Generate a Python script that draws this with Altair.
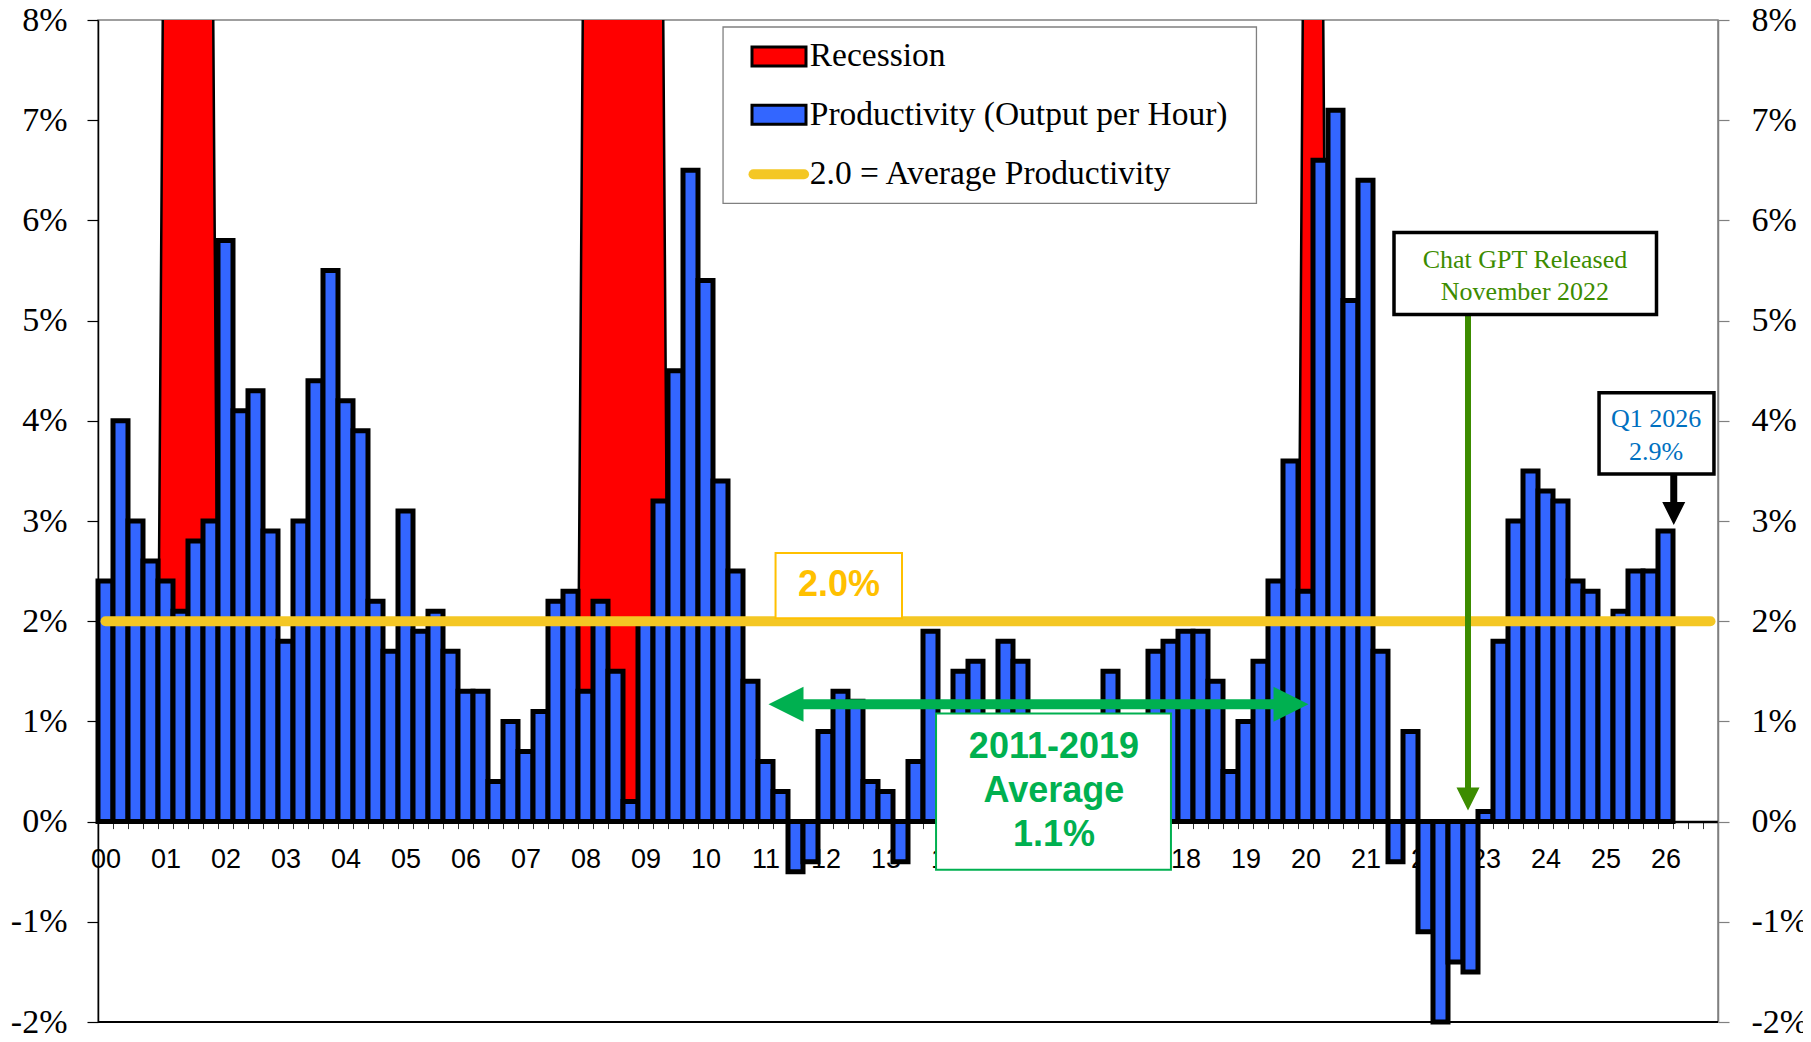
import json
import altair as alt
import pandas as pd

# ------------------------------------------------------------------ data
year_labels = ["00", "01", "02", "03", "04", "05", "06", "07", "08", "09",
               "10", "11", "12", "13", "14", "15", "16", "17", "18", "19",
               "20", "21", "22", "23", "24", "25", "26"]

# Productivity (output per hour), y/y % change, quarterly 2000Q1 .. 2026Q1
productivity = [
    2.4, 4.0, 3.0, 2.6,      # 2000
    2.4, 2.1, 2.8, 3.0,      # 2001
    5.8, 4.1, 4.3, 2.9,      # 2002
    1.8, 3.0, 4.4, 5.5,      # 2003
    4.2, 3.9, 2.2, 1.7,      # 2004
    3.1, 1.9, 2.1, 1.7,      # 2005
    1.3, 1.3, 0.4, 1.0,      # 2006
    0.7, 1.1, 2.2, 2.3,      # 2007
    1.3, 2.2, 1.5, 0.2,      # 2008
    2.0, 3.2, 4.5, 6.5,      # 2009
    5.4, 3.4, 2.5, 1.4,      # 2010
    0.6, 0.3, -0.5, -0.4,    # 2011
    0.9, 1.3, 1.2, 0.4,      # 2012
    0.3, -0.4, 0.6, 1.9,     # 2013
    0.8, 1.5, 1.6, 0.9,      # 2014
    1.8, 1.6, 0.9, 0.6,      # 2015
    0.5, 0.4, 0.6, 1.5,      # 2016
    0.9, 1.0, 1.7, 1.8,      # 2017
    1.9, 1.9, 1.4, 0.5,      # 2018
    1.0, 1.6, 2.4, 3.6,      # 2019
    2.3, 6.6, 7.1, 5.2,      # 2020
    6.4, 1.7, -0.4, 0.9,     # 2021
    -1.1, -2.0, -1.4, -1.5,  # 2022
    0.1, 1.8, 3.0, 3.5,      # 2023
    3.3, 3.2, 2.4, 2.3,      # 2024
    2.0, 2.1, 2.5, 2.5,      # 2025
    2.9,                     # 2026 Q1
]

recession_start = ["2001Q1", "2008Q1", "2020Q1"]
recession_end = ["2001Q4", "2009Q2", "2020Q2"]

average_productivity = 2.0
chatgpt_release = (2022, 11)
legend_labels = ["Recession", "Productivity (Output per Hour)", "2.0 = Average Productivity"]

# ------------------------------------------------------------------ helpers
FIRST_YEAR = 2000
SLOTS = 4 * len(year_labels)          # 2000Q1 .. 2026Q4
W, H = 1620, 1002


def qidx(s):
    return (int(s[:4]) - FIRST_YEAR) * 4 + int(s[-1]) - 1


RED, BLUE, YEL = "#FF0000", "#3366FF", "#F4C724"
GREEN, GPT_GREEN, Q_BLUE, GOLD = "#00B050", "#3C8C00", "#0070C0", "#FFC000"

XS = alt.Scale(domain=[-0.5, SLOTS - 0.5], nice=False, zero=False)
YS = alt.Scale(domain=[-2, 8], nice=False, zero=False)


def xq(f):
    return alt.X(f, type="quantitative", scale=XS, axis=None)


def yq(f):
    return alt.Y(f, type="quantitative", scale=YS, axis=None)


def one(**kw):
    return pd.DataFrame({k: [v] for k, v in kw.items()})


def box(x0, x1, y0, y1, stroke, sw, fill="white"):
    return alt.Chart(one(x0=x0, x1=x1, y0=y0, y1=y1)).mark_rect(
        fill=fill, stroke=stroke, strokeWidth=sw
    ).encode(x=xq("x0"), x2="x1:Q", y=yq("y0"), y2="y1:Q")


def label(x, y, lines, **kw):
    return alt.Chart(one(x=x, y=y)).mark_text(**kw).encode(
        x=xq("x"), y=yq("y"), text=alt.value(lines))


def hseg(x0, x1, y, color, w, cap="butt"):
    return alt.Chart(one(x0=x0, x1=x1, y=y)).mark_rule(
        color=color, strokeWidth=w, strokeCap=cap
    ).encode(x=xq("x0"), x2="x1:Q", y=yq("y"))


def vseg(x, y0, y1, color, w):
    return alt.Chart(one(x=x, y0=y0, y1=y1)).mark_rule(
        color=color, strokeWidth=w
    ).encode(x=xq("x"), y=yq("y0"), y2="y1:Q")


def head(x, y, path, size, color):
    return alt.Chart(one(x=x, y=y)).mark_point(
        shape=path, size=size, filled=True, color=color, opacity=1, strokeWidth=0
    ).encode(x=xq("x"), y=yq("y"))


LEFT, RIGHT, DOWN = "M0,0L2,-1L2,1Z", "M0,0L-2,-1L-2,1Z", "M0,0L-1,-2L1,-2Z"

# ------------------------------------------------------------------ recession areas
RAMP, LEVEL = 0.55, 12
rows = []
for k, (s, e) in enumerate(zip(recession_start, recession_end)):
    si, ei = qidx(s), qidx(e)
    rows += [dict(rid=k, q=si - RAMP, v=0, b=0), dict(rid=k, q=si, v=LEVEL, b=0),
             dict(rid=k, q=ei, v=LEVEL, b=0), dict(rid=k, q=ei + RAMP, v=0, b=0)]
rec = alt.Chart(pd.DataFrame(rows)).mark_area(
    fill=RED, stroke="black", strokeWidth=2.5, clip=True
).encode(x=xq("q"), y=yq("v"), y2="b:Q", detail="rid:N")

# ------------------------------------------------------------------ bars
n = len(productivity)
bdf = pd.DataFrame({"i": list(range(n)), "v": productivity})
bdf["x0"] = bdf["i"] - 0.5
bdf["x1"] = bdf["i"] + 0.5
bdf["b"] = 0.0

bounds = [k - 0.5 for k in range(SLOTS + 1)]
label_expr = ("((datum.value + 0.5) % 4 == 0 && (datum.value + 0.5) / 4 < {n}) ? "
              "{arr}[(datum.value + 0.5) / 4] : ''").format(n=len(year_labels),
                                                           arr=json.dumps(year_labels))
x_axis = alt.Axis(values=bounds, labelExpr=label_expr, orient="bottom", offset=-H * 0.2,
                  tickSize=7, tickColor="#333333", tickWidth=1,
                  domainColor="black", domainWidth=2.5,
                  labelFont="Liberation Sans", labelFontSize=27, labelColor="black",
                  labelPadding=18, labelOffset=W / SLOTS / 2, labelOverlap=False,
                  labelBound=False, labelFlush=False, title=None, grid=False)
y_ticks = list(range(-2, 9))
y_left = alt.Axis(values=y_ticks, labelExpr="datum.value + '%'", orient="left",
                  tickSize=11, tickColor="black", tickWidth=1.2,
                  domainColor="black", domainWidth=1.5,
                  labelFont="Liberation Serif", labelFontSize=34, labelColor="black",
                  labelPadding=20, title=None, grid=False)
y_right = alt.Axis(values=y_ticks, labelExpr="datum.value + '%'", orient="right",
                   tickSize=11, tickColor="#808080", tickWidth=1.2,
                   domainColor="#808080", domainWidth=1.5,
                   labelFont="Liberation Serif", labelFontSize=34, labelColor="black",
                   labelPadding=22, title=None, grid=False)

bars = alt.Chart(bdf).mark_bar(fill=BLUE, stroke="black", strokeWidth=5).encode(
    x=alt.X("x0:Q", scale=XS, axis=x_axis), x2="x1:Q",
    y=alt.Y("v:Q", scale=YS, axis=y_left), y2="b:Q")

bottom = alt.Chart(one(y=-2)).mark_rule(color="black", strokeWidth=2).encode(y=yq("y"))

avg = alt.Chart(one(x0=0, x1=SLOTS - 1, y=average_productivity)).mark_rule(
    color=YEL, strokeWidth=10, strokeCap="round"
).encode(x=xq("x0"), x2="x1:Q", y=alt.Y("y:Q", scale=YS, axis=y_right))

# ------------------------------------------------------------------ annotations
avg_box = box(44.67, 53.1, 2.68, 2.03, GOLD, 2)
avg_txt = label(48.9, 2.36, "2.0%", font="Liberation Sans", fontSize=36, fontWeight="bold",
                color=GOLD, align="center", baseline="middle")

g_y = 1.17
g_shaft = hseg(45.5, 79.0, g_y, GREEN, 10)
g_left = head(44.2, g_y, LEFT, 1225, GREEN)
g_right = head(80.2, g_y, RIGHT, 1225, GREEN)
g_box = box(55.37, 71.03, 1.08, -0.48, GREEN, 2)
g_txt = label(63.23, 0.74, ["2011-2019", "Average", "1.1%"], font="Liberation Sans",
              fontSize=36, fontWeight="bold", color=GREEN, align="center",
              baseline="middle", lineHeight=44)

gx = (chatgpt_release[0] - FIRST_YEAR) * 4 + (chatgpt_release[1] - 1) / 3 - 0.5
gpt_box = box(85.9, 103.4, 5.88, 5.06, "black", 3.5)
gpt_txt = label(94.63, 5.60, ["Chat GPT Released", "November 2022"], font="Liberation Serif",
                fontSize=26, color=GPT_GREEN, align="center", baseline="middle", lineHeight=32)
gpt_shaft = vseg(gx, 5.06, 0.3, GPT_GREEN, 6)
gpt_head = head(gx, 0.11, DOWN, 529, GPT_GREEN)

last = n - 1
q_box = box(99.57, 107.23, 4.28, 3.47, "black", 3.5)
q_txt = label(103.37, 4.02, ["Q1 2026", "2.9%"], font="Liberation Serif", fontSize=26,
              color=Q_BLUE, align="center", baseline="middle", lineHeight=33)
q_shaft = vseg(last + 0.55, 3.47, 3.15, "black", 7)
q_head = head(last + 0.55, 2.96, DOWN, 529, "black")

# ------------------------------------------------------------------ legend
lg_box = box(41.17, 76.73, 7.93, 6.17, "#808080", 1.3)
lg_red = box(43.1, 46.7, 7.73, 7.54, "black", 3, fill=RED)
lg_blue = box(43.1, 46.7, 7.15, 6.96, "black", 3, fill=BLUE)
lg_yel = hseg(43.2, 46.57, 6.46, YEL, 10, cap="round")
lg_txt = [label(46.95, yy, t, font="Liberation Serif", fontSize=33.5, color="black",
                align="left", baseline="middle")
          for yy, t in zip([7.64, 7.05, 6.46], legend_labels)]

chart = alt.layer(
    rec, bars, bottom, avg,
    avg_box, avg_txt,
    g_box, g_txt, g_shaft, g_left, g_right,
    gpt_shaft, gpt_head, gpt_box, gpt_txt,
    q_shaft, q_head, q_box, q_txt,
    lg_box, lg_red, lg_blue, lg_yel, *lg_txt,
).resolve_axis(x="independent", y="independent").properties(
    width=W, height=H,
    padding={"left": 90, "top": 12, "right": 85, "bottom": 12},
    autosize=alt.AutoSizeParams(type="none"),
    background="white",
).configure_view(stroke="#808080", strokeWidth=1.5)

chart.save("out.html", embed_options={"renderer": "svg", "actions": False})
